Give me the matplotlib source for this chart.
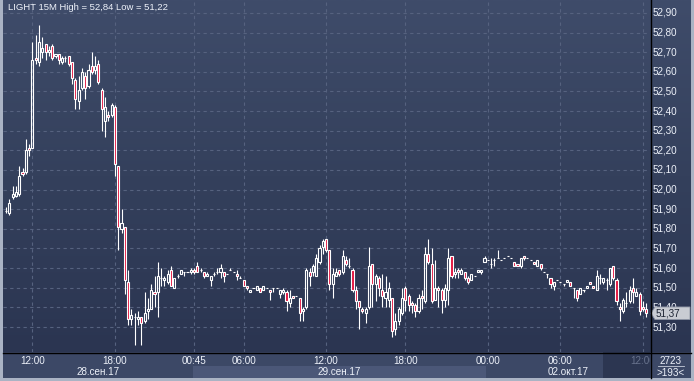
import numpy as np
import matplotlib
matplotlib.use("Agg")
import matplotlib.pyplot as plt
from matplotlib.patches import Rectangle, Polygon
from matplotlib.colors import LinearSegmentedColormap
from matplotlib.lines import Line2D

plt.rcParams['font.family'] = ['Liberation Sans', 'DejaVu Sans']

# ---------------- data (15-minute OHLC bars) ----------------
opens = [51.89, 51.88, 51.96, 51.97, 51.98, 52.09, 52.09, 52.21, 52.21, 52.67,
         52.65, 52.70, 52.74, 52.70, 52.73, 52.68, 52.69, 52.65, 52.67, 52.68,
         52.65, 52.56, 52.45, 52.52, 52.58, 52.53, 52.63, 52.61, 52.64, 52.51,
         52.35, 52.38, 52.38, 52.42, 52.12, 51.80, 51.81, 51.53, 51.34, 51.35,
         51.34, 51.35, 51.33, 51.38, 51.39, 51.48, 51.48, 51.55, 51.54, 51.53,
         51.59, 51.50, 51.56, 51.57, 51.58, 51.58, 51.58, 51.59, 51.61, 51.59,
         51.58, 51.56, 51.54, 51.57, 51.58, 51.58, 51.58, 51.57, 51.59, 51.58,
         51.57, 51.55, 51.54, 51.51, 51.48, 51.50, 51.49, 51.50, 51.49, 51.50,
         51.49, 51.50, 51.50, 51.47, 51.48, 51.48, 51.42, 51.46, 51.46, 51.45,
         51.38, 51.40, 51.58, 51.58, 51.56, 51.63, 51.71, 51.75, 51.69, 51.52,
         51.56, 51.59, 51.58, 51.64, 51.61, 51.59, 51.49, 51.43, 51.39, 51.37,
         51.40, 51.62, 51.52, 51.55, 51.49, 51.45, 51.44, 51.45, 51.29, 51.33,
         51.37, 51.50, 51.46, 51.42, 51.41, 51.38, 51.46, 51.43, 51.67, 51.62,
         51.44, 51.50, 51.49, 51.44, 51.49, 51.66, 51.57, 51.59, 51.57, 51.58,
         51.55, 51.54, 51.56, 51.58, 51.58, 51.63, 51.64, 51.62, 51.64, 51.65,
         51.64, 51.65, 51.66, 51.65, 51.63, 51.62, 51.61, 51.66, 51.65, 51.64,
         51.63, 51.61, 51.62, 51.58, 51.57, 51.55, 51.51, 51.54, 51.53, 51.52,
         51.53, 51.53, 51.50, 51.49, 51.47, 51.49, 51.50, 51.53, 51.51, 51.49,
         51.55, 51.53, 51.54, 51.52, 51.61, 51.54, 51.40, 51.38, 51.42, 51.43,
         51.50, 51.46, 51.47, 51.40, 51.39]
highs = [51.91, 51.95, 52.02, 52.02, 52.12, 52.11, 52.26, 52.23, 52.75, 52.79,
         52.84, 52.78, 52.74, 52.73, 52.74, 52.69, 52.69, 52.68, 52.68, 52.68,
         52.65, 52.57, 52.58, 52.62, 52.60, 52.64, 52.70, 52.68, 52.66, 52.52,
         52.47, 52.40, 52.44, 52.43, 52.12, 51.90, 51.81, 51.59, 51.39, 51.37,
         51.38, 51.35, 51.48, 51.45, 51.52, 51.56, 51.63, 51.60, 51.56, 51.59,
         51.61, 51.55, 51.57, 51.59, 51.58, 51.58, 51.60, 51.60, 51.63, 51.60,
         51.58, 51.58, 51.56, 51.58, 51.60, 51.62, 51.58, 51.57, 51.60, 51.58,
         51.59, 51.56, 51.54, 51.51, 51.49, 51.50, 51.51, 51.50, 51.51, 51.50,
         51.49, 51.50, 51.50, 51.49, 51.50, 51.49, 51.49, 51.46, 51.46, 51.45,
         51.40, 51.60, 51.60, 51.62, 51.67, 51.72, 51.75, 51.75, 51.69, 51.60,
         51.60, 51.59, 51.69, 51.66, 51.65, 51.60, 51.51, 51.43, 51.40, 51.40,
         51.71, 51.62, 51.57, 51.56, 51.57, 51.56, 51.53, 51.45, 51.37, 51.40,
         51.50, 51.51, 51.47, 51.43, 51.42, 51.47, 51.49, 51.71, 51.75, 51.70,
         51.64, 51.51, 51.50, 51.52, 51.70, 51.66, 51.60, 51.60, 51.60, 51.58,
         51.56, 51.57, 51.56, 51.59, 51.59, 51.66, 51.64, 51.65, 51.65, 51.69,
         51.64, 51.65, 51.66, 51.65, 51.63, 51.62, 51.65, 51.66, 51.65, 51.64,
         51.63, 51.64, 51.62, 51.58, 51.57, 51.55, 51.53, 51.54, 51.53, 51.52,
         51.54, 51.53, 51.50, 51.49, 51.50, 51.49, 51.51, 51.53, 51.51, 51.59,
         51.57, 51.55, 51.55, 51.60, 51.61, 51.55, 51.42, 51.45, 51.48, 51.51,
         51.55, 51.50, 51.48, 51.43, 51.42]
lows = [51.88, 51.87, 51.95, 51.96, 51.97, 52.07, 52.08, 52.17, 52.21, 52.64,
        52.63, 52.67, 52.66, 52.68, 52.66, 52.67, 52.64, 52.64, 52.65, 52.63,
        52.54, 52.41, 52.41, 52.51, 52.46, 52.52, 52.59, 52.59, 52.54, 52.30,
        52.27, 52.35, 52.37, 52.07, 51.69, 51.78, 51.47, 51.31, 51.31, 51.21,
        51.31, 51.21, 51.32, 51.34, 51.39, 51.40, 51.35, 51.51, 51.51, 51.52,
        51.51, 51.50, 51.55, 51.57, 51.56, 51.58, 51.57, 51.57, 51.58, 51.58,
        51.55, 51.56, 51.51, 51.56, 51.57, 51.55, 51.53, 51.57, 51.59, 51.58,
        51.54, 51.55, 51.51, 51.49, 51.48, 51.50, 51.49, 51.48, 51.49, 51.50,
        51.44, 51.48, 51.50, 51.45, 51.47, 51.38, 51.40, 51.45, 51.46, 51.33,
        51.33, 51.39, 51.51, 51.56, 51.56, 51.62, 51.67, 51.68, 51.49, 51.45,
        51.56, 51.56, 51.57, 51.61, 51.60, 51.48, 51.39, 51.29, 51.37, 51.32,
        51.39, 51.40, 51.43, 51.46, 51.40, 51.40, 51.40, 51.25, 51.26, 51.31,
        51.36, 51.38, 51.38, 51.37, 51.35, 51.37, 51.39, 51.42, 51.62, 51.42,
        51.44, 51.40, 51.37, 51.40, 51.41, 51.55, 51.55, 51.55, 51.57, 51.54,
        51.52, 51.54, 51.56, 51.58, 51.57, 51.63, 51.64, 51.60, 51.61, 51.65,
        51.64, 51.65, 51.66, 51.65, 51.61, 51.61, 51.60, 51.64, 51.65, 51.64,
        51.62, 51.61, 51.59, 51.58, 51.55, 51.50, 51.49, 51.54, 51.53, 51.51,
        51.53, 51.51, 51.45, 51.43, 51.47, 51.48, 51.50, 51.52, 51.50, 51.49,
        51.52, 51.52, 51.49, 51.51, 51.54, 51.41, 51.33, 51.37, 51.40, 51.42,
        51.42, 51.46, 51.36, 51.38, 51.35]
closes = [51.89, 51.93, 51.98, 51.99, 52.07, 52.08, 52.20, 52.20, 52.66, 52.66,
          52.75, 52.72, 52.70, 52.71, 52.67, 52.69, 52.66, 52.67, 52.67, 52.64,
          52.57, 52.46, 52.51, 52.60, 52.52, 52.61, 52.60, 52.63, 52.55, 52.41,
          52.42, 52.37, 52.43, 52.13, 51.81, 51.83, 51.54, 51.34, 51.36, 51.35,
          51.35, 51.32, 51.37, 51.39, 51.49, 51.47, 51.56, 51.55, 51.55, 51.57,
          51.51, 51.55, 51.56, 51.59, 51.58, 51.58, 51.59, 51.58, 51.58, 51.59,
          51.56, 51.57, 51.56, 51.57, 51.58, 51.60, 51.56, 51.57, 51.59, 51.58,
          51.56, 51.55, 51.51, 51.50, 51.49, 51.50, 51.51, 51.48, 51.51, 51.50,
          51.48, 51.50, 51.50, 51.49, 51.49, 51.43, 51.45, 51.45, 51.46, 51.37,
          51.39, 51.59, 51.56, 51.61, 51.65, 51.70, 51.74, 51.69, 51.52, 51.57,
          51.58, 51.57, 51.66, 51.62, 51.61, 51.49, 51.43, 51.40, 51.38, 51.39,
          51.61, 51.52, 51.56, 51.50, 51.46, 51.48, 51.50, 51.28, 51.33, 51.39,
          51.45, 51.44, 51.41, 51.41, 51.38, 51.45, 51.45, 51.67, 51.63, 51.43,
          51.50, 51.49, 51.44, 51.50, 51.65, 51.56, 51.58, 51.58, 51.59, 51.55,
          51.53, 51.57, 51.56, 51.59, 51.59, 51.65, 51.64, 51.62, 51.64, 51.65,
          51.64, 51.65, 51.66, 51.65, 51.61, 51.61, 51.65, 51.65, 51.65, 51.64,
          51.62, 51.64, 51.60, 51.58, 51.57, 51.52, 51.53, 51.54, 51.53, 51.52,
          51.54, 51.51, 51.50, 51.45, 51.50, 51.49, 51.51, 51.52, 51.50, 51.56,
          51.55, 51.55, 51.54, 51.60, 51.55, 51.43, 51.39, 51.44, 51.42, 51.49,
          51.48, 51.48, 51.38, 51.39, 51.37]

price_ticks = [51.30, 51.40, 51.50, 51.60, 51.70, 51.80, 51.90, 52.00,
               52.10, 52.20, 52.30, 52.40, 52.50, 52.60, 52.70, 52.80, 52.90]
time_tick_bars = [8, 33, 57, 72, 97, 121, 146, 168, 193]
time_tick_labels = ["12:00", "18:00", "00:45", "06:00", "12:00",
                    "18:00", "00:00", "06:00", "12:00"]
day_labels = ["28.сен.17", "29.сен.17", "02.окт.17"]
day_starts = [-0.9, 56.6, 145.6]
title_text = "LIGHT 15M High = 52,84 Low = 51,22"
last_price = 51.37
bars_total = "2723"
bars_visible = ">193<"

# ---------------- layout helpers ----------------
W, H = 694, 381
fig = plt.figure(figsize=(W / 100, H / 100), dpi=100)
fig.patch.set_facecolor('#aab3c4')

def px_axes(x0, y0, x1, y1):
    a = fig.add_axes([x0 / W, 1 - y1 / H, (x1 - x0) / W, (y1 - y0) / H])
    a.set_axis_off()
    return a

PX_PER_UNIT = 196.25
Y_TOP_PX, Y_BOT_PX = 0, 352
y_top = 52.90 + (13 - Y_TOP_PX) / PX_PER_UNIT
y_bot = 52.90 - (Y_BOT_PX - 13) / PX_PER_UNIT
x_left, x_right = (3 - 6) / 3.3, (650 - 6) / 3.3

grad = LinearSegmentedColormap.from_list('bg', ['#2b3551', '#34405c', '#3f4c6a'])
gimg = np.linspace(0, 1, 256).reshape(-1, 1)

TXT = '#eef2fa'
FS = 7.1

# ---------------- main price axes ----------------
ax = px_axes(3, Y_TOP_PX, 650, Y_BOT_PX)
ax.imshow(gimg, cmap=grad, origin='lower', aspect='auto',
          extent=[0, 1, 0, 1], transform=ax.transAxes, zorder=0)
ax.set_xlim(x_left, x_right)
ax.set_ylim(y_bot, y_top)

grid_kw = dict(color='#56627f', lw=0.8, linestyle=(0, (3, 3)), zorder=1)
for p in price_ticks:
    ax.axhline(p, **grid_kw)
for t in time_tick_bars:
    ax.axvline(t, **grid_kw)

o = np.array(opens); h = np.array(highs); l = np.array(lows); c = np.array(closes)
idx = np.arange(len(o))
top = np.maximum(o, c); bot = np.minimum(o, c)
up = c >= o
ax.vlines(idx, top, h, color='white', lw=0.8, zorder=2)
ax.vlines(idx, l, bot, color='white', lw=0.8, zorder=2)
bw = 0.62
ax.bar(idx[up], (top - bot)[up], bottom=bot[up], width=bw,
       facecolor='none', edgecolor='white', linewidth=0.8, zorder=3)
ax.bar(idx[~up], (top - bot)[~up], bottom=bot[~up], width=bw,
       facecolor='#e3153f', edgecolor='white', linewidth=0.8, zorder=3)

ax.text(5 / 647, 1 - 8 / 352, title_text, transform=ax.transAxes,
        color=TXT, fontsize=6.8, ha='left', va='center', zorder=5)

# ---------------- right price scale ----------------
axr = px_axes(650, Y_TOP_PX, 691, Y_BOT_PX)
axr.imshow(gimg, cmap=grad, origin='lower', aspect='auto',
           extent=[0, 1, 0, 1], transform=axr.transAxes, zorder=0)
axr.set_xlim(0, 41)
axr.set_ylim(y_bot, y_top)
hh = 6.3 / PX_PER_UNIT
for p in price_ticks:
    lab = axr.text(3, p, f"{p:.2f}".replace('.', ','), color=TXT, fontsize=FS,
                   ha='left', va='center', zorder=2)
    if abs(p - last_price) < 0.05:
        # partly hidden behind the last-price marker, as in the original
        lab.set_clip_path(Rectangle((0, last_price + hh), 41, 1,
                                    transform=axr.transData))
axr.add_patch(Polygon([[1, last_price], [5, last_price + hh], [40, last_price + hh],
                       [40, last_price - hh], [5, last_price - hh]],
                      closed=True, facecolor='#c9ccd3', edgecolor='#8c93a3',
                      lw=0.6, zorder=3))
axr.text(5.5, last_price, f"{last_price:.2f}".replace('.', ','), color='#1d2433',
         fontsize=FS, ha='left', va='center', zorder=4)

# ---------------- bottom time scale ----------------
axb = px_axes(3, Y_BOT_PX, 650, 378)
axb.set_xlim(x_left, x_right)
axb.set_ylim(26, 0)
axb.add_patch(Rectangle((x_left, 0), x_right - x_left, 26, facecolor='#3c4866',
                        edgecolor='none', zorder=0))
day_ends = day_starts[1:] + [x_right]
for k, (s, e) in enumerate(zip(day_starts, day_ends)):
    if k == 1:
        axb.add_patch(Rectangle((s, 14), e - s, 12, facecolor='#4b5778',
                                edgecolor='none', zorder=1))
    axb.text((s + e) / 2, 20, day_labels[k], color=TXT, fontsize=FS,
             ha='center', va='center', zorder=3)
dark_start = (603 - 6) / 3.3
axb.add_patch(Rectangle((dark_start, 0), x_right - dark_start, 26,
                        facecolor='#2c3651', edgecolor='none', zorder=2))
for t, lab in zip(time_tick_bars, time_tick_labels):
    col = '#68738d' if t > dark_start else TXT
    txt = axb.text(t, 9, lab, color=col, fontsize=FS, ha='center', va='center',
                   zorder=3)
    txt.set_clip_on(True)

# ---------------- bottom-right counter ----------------
axc = px_axes(650, Y_BOT_PX, 691, 378)
axc.set_xlim(0, 41)
axc.set_ylim(26, 0)
axc.add_patch(Rectangle((0, 0), 41, 26, facecolor='#3c4866', edgecolor='none'))
axc.text(21, 8.5, bars_total, color=TXT, fontsize=FS, ha='center', va='center')
axc.add_line(Line2D([8, 34], [14, 14], color='#c8cfdc', lw=0.6))
axc.text(21, 20.5, bars_visible, color=TXT, fontsize=FS, ha='center', va='center')

# ---------------- separator lines ----------------
fig.add_artist(Line2D([3 / W, 691 / W], [1 - 352.5 / H] * 2, color='black', lw=1.0))
fig.add_artist(Line2D([650.5 / W] * 2, [1 - 378 / H, 1], color='black', lw=1.0))

fig.savefig('out.png', dpi=100, facecolor=fig.get_facecolor())
